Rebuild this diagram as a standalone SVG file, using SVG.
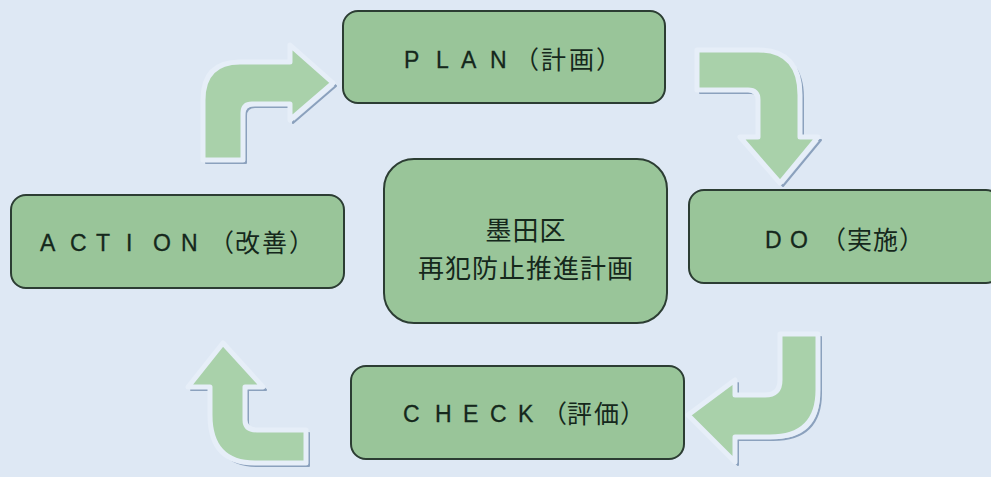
<svg xmlns="http://www.w3.org/2000/svg" width="991" height="477" viewBox="0 0 991 477">
<style>
.bg{fill:#dee8f4}
.box{fill:#99c599;stroke:#2c3d33;stroke-width:2}
.lat{font-family:"Liberation Sans",Arial,sans-serif;font-size:23px;fill:#15281c;stroke:#15281c;stroke-width:0.3}
.cjk{font-family:"Noto Sans CJK JP","Noto Sans CJK SC",sans-serif;font-size:25px;fill:#15281c}
.ctr{font-size:26px}
.shadow{fill:none;stroke:#8ba1bd;stroke-width:2;stroke-linejoin:round}
.arrow{fill:#a9d1aa;stroke:#e6eef8;stroke-width:5;stroke-linejoin:round}
</style>
<rect class="bg" x="0" y="0" width="991" height="477"/>
<g id="connectors">
  <g id="arrow-action-plan">
    <path class="shadow" transform="translate(3,3)" d="M203,160 L203,100 Q203,62 240,62 L290,62 L290,45 L333,83 L290,120 L290,104 L252,104 Q243,104 243,113 L243,160 Z"/>
    <path class="arrow" d="M203,160 L203,100 Q203,62 240,62 L290,62 L290,45 L333,83 L290,120 L290,104 L252,104 Q243,104 243,113 L243,160 Z"/>
  </g>
  <g id="arrow-plan-do">
    <path class="shadow" transform="translate(3,3)" d="M697,50 L758,50 Q800,50 800,95 L800,137 L818,137 L780,183 L740,137 L758,137 L758,100 Q758,90 748,90 L697,90 Z"/>
    <path class="arrow" d="M697,50 L758,50 Q800,50 800,95 L800,137 L818,137 L780,183 L740,137 L758,137 L758,100 Q758,90 748,90 L697,90 Z"/>
  </g>
  <g id="arrow-do-check">
    <path class="shadow" transform="translate(3,3)" d="M780,334 L818,334 L818,390 Q818,437 770,437 L735,437 L735,462 L688,415 L735,380 L735,395 L765,395 Q780,395 780,380 Z"/>
    <path class="arrow" d="M780,334 L818,334 L818,390 Q818,437 770,437 L735,437 L735,462 L688,415 L735,380 L735,395 L765,395 Q780,395 780,380 Z"/>
  </g>
  <g id="arrow-check-action">
    <path class="shadow" transform="translate(3,3)" d="M223,343 L263,387 L245,387 L245,420 Q245,430 257,430 L306,430 L306,463 L255,463 Q210,463 210,415 L210,387 L188,387 Z"/>
    <path class="arrow" d="M223,343 L263,387 L245,387 L245,420 Q245,430 257,430 L306,430 L306,463 L255,463 Q210,463 210,415 L210,387 L188,387 Z"/>
  </g>
</g>
<g id="plan">
  <rect class="box" x="343" y="11" width="322" height="92" rx="15"/>
  <text><tspan class="lat" x="404 436 461 490" y="68">PLAN</tspan><tspan class="cjk" x="514 541 569 596" y="69">（計画）</tspan></text>
</g>
<g id="do">
  <rect class="box" x="689" y="190" width="312" height="93" rx="15"/>
  <text><tspan class="lat" x="765 790" y="248">DO</tspan><tspan class="cjk" x="821 847 873 899" y="249">（実施）</tspan></text>
</g>
<g id="check">
  <rect class="box" x="351" y="366" width="333" height="93" rx="15"/>
  <text><tspan class="lat" x="403 435 463 490 518" y="422">CHECK</tspan><tspan class="cjk" x="542 567 594 620" y="423">（評価）</tspan></text>
</g>
<g id="action">
  <rect class="box" x="11" y="195" width="333" height="93" rx="15"/>
  <text><tspan class="lat" x="40 70 96 126 153 181" y="251">ACTION</tspan><tspan class="cjk" x="209 235 262 289" y="252">（改善）</tspan></text>
</g>
<g id="center">
  <rect class="box" x="384" y="159" width="283" height="164" rx="30"/>
  <text class="cjk ctr" x="526" y="240" text-anchor="middle" letter-spacing="1">墨田区</text>
  <text class="cjk ctr" x="526" y="278" text-anchor="middle" letter-spacing="1">再犯防止推進計画</text>
</g>
</svg>
